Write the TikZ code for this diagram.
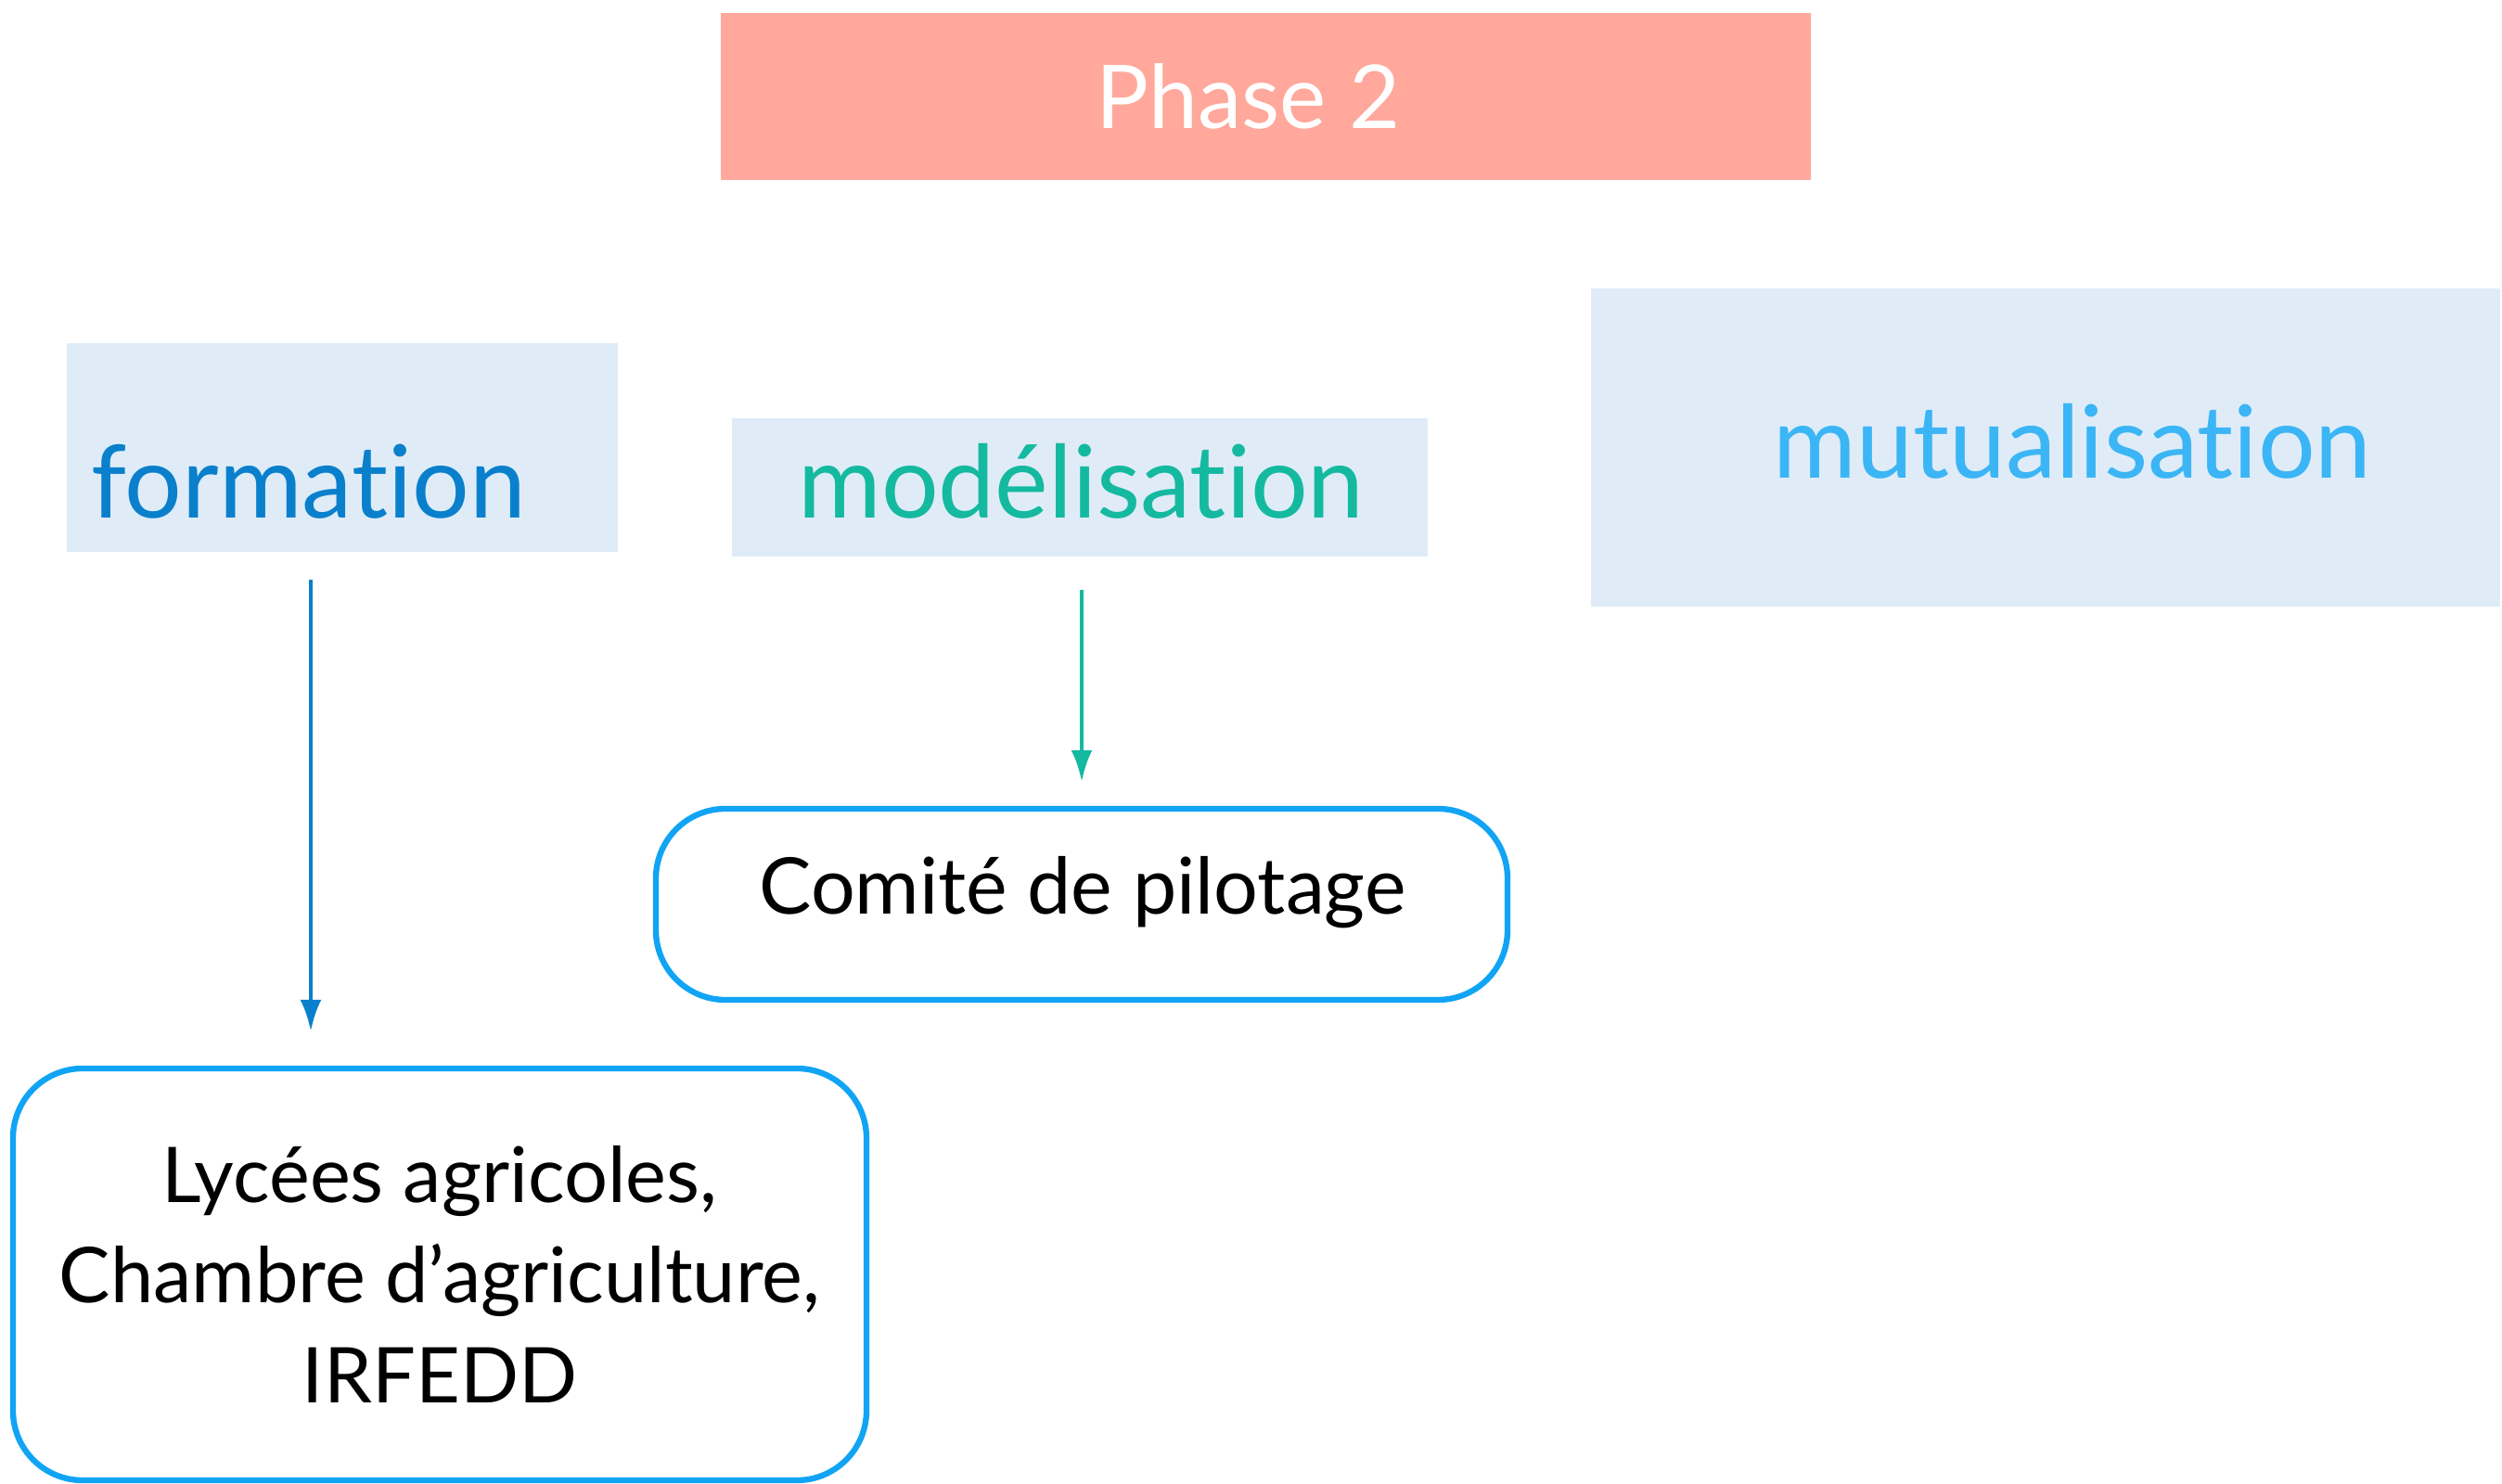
\documentclass[tikz,border=0pt]{standalone}
\usepackage{fontspec}
\setmainfont{Lato}[Ligatures={NoCommon,NoRare}]
\usepackage{tikz}
\usetikzlibrary{positioning}
\usetikzlibrary{arrows.meta}
\definecolor{saumon}{HTML}{FFA89B}
\definecolor{bleupale}{HTML}{DFECF7}
\definecolor{bleuF}{HTML}{0A80CC}
\definecolor{vertM}{HTML}{14B9A0}
\definecolor{bleuMu}{HTML}{3BB5F5}
\definecolor{bord}{HTML}{11A4F5}
\tikzset{phasebox/.style={fill=saumon,minimum width=11.75cm,minimum height=1.8cm,text=white,font=\fontsize{27}{31}\selectfont},
axebox/.style={fill=bleupale,inner sep=0pt},
axetxt/.style={anchor=base,font=\fontsize{31}{35}\selectfont},
acteur/.style={draw=bord,line width=1.8pt,rounded corners=0.75cm,inner sep=0pt},
fleche/.style={line width=1.3pt,-{Latex[length=3.4mm,width=2.3mm]}}}
\begin{document}
\begin{tikzpicture}
\useasboundingbox (0,0) rectangle (26.97,16);
\node[phasebox] (phase) at (13.645,14.96) {Phase 2\hspace*{0.38cm}};
\node[axebox,minimum width=5.94cm,minimum height=2.25cm] (fbox) at (3.69,11.175) {};
\node[axetxt,text=bleuF] (ftxt) at (3.325,10.41) {formation};
\node[axebox,minimum width=7.5cm,minimum height=1.49cm] (mbox) at (11.64,10.745) {};
\node[axetxt,text=vertM] (mtxt) at (11.655,10.41) {modélisation};
\node[axebox,minimum width=9.8cm,minimum height=3.43cm] (mubox) at (22.05,11.175) {};
\node[axetxt,text=bleuMu] (mutxt) at (22.34,10.84) {mutualisation};
\node[acteur,minimum width=9.18cm,minimum height=2.06cm] (copil) at (11.66,6.25) {};
\node[anchor=base,font=\fontsize{24}{28}\selectfont] (copiltxt) at (11.67,6.14) {Comité de pilotage};
\node[acteur,minimum width=9.2cm,minimum height=4.44cm,align=center,font=\fontsize{23.6}{30.7}\selectfont] (lyc) at (4.74,2.26) {Lycées agricoles,\\Chambre d’agriculture,\\IRFEDD};
\draw[fleche,bleuF,shorten <=2.9mm,shorten >=3.7mm] ([xshift=-3.4mm]fbox.south) -- ([xshift=-3.4mm]fbox.south |- lyc.north);
\draw[fleche,vertM,shorten <=3.5mm,shorten >=2.6mm] (mbox.south -| copil.north) -- (copil.north);
\end{tikzpicture}
\end{document}
